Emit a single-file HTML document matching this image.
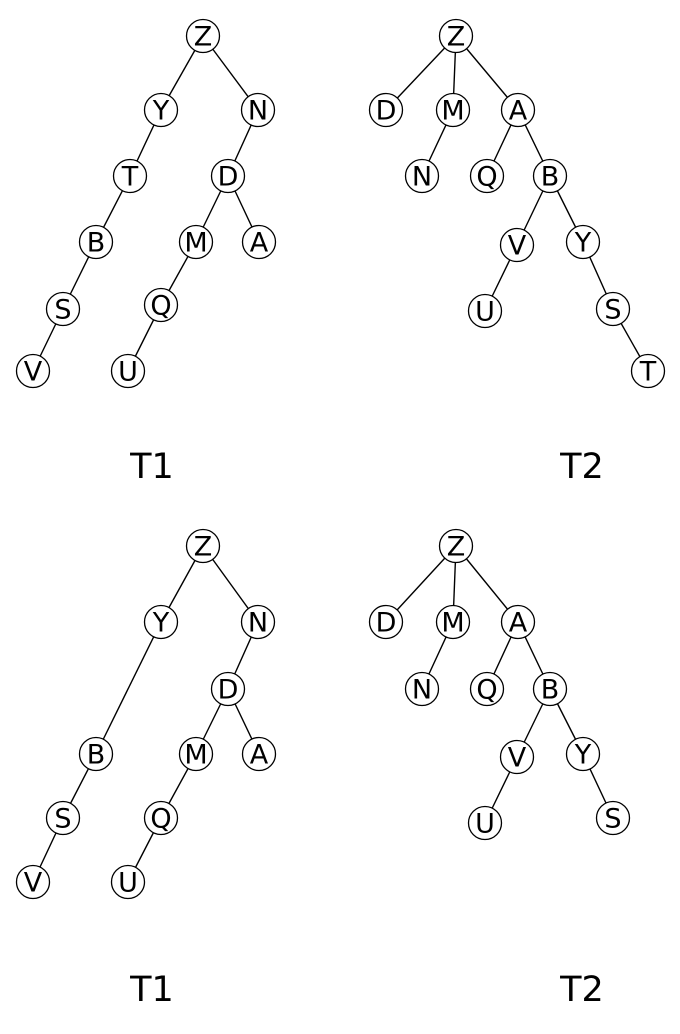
<!DOCTYPE html>
<html><head><meta charset="utf-8"><style>
html,body{margin:0;padding:0;background:#fff;}
svg{display:block;}
text{font-family:"DejaVu Sans","Liberation Sans",sans-serif;}
</style></head><body>
<svg id="chart" width="680" height="1034" viewBox="0 0 680 1034"></svg>
<script>
const labelsTop1 = ["Z","Y","N","T","D","B","M","A","S","Q","V","U"];
const xTop1 = [203,161,258,130,228,96,196,259,63,161,33,128];
const yTop1 = [36,110,110,176,176,242,242,242,309,305,371,371];
const edgesTop1 = [["Z","Y"],["Z","N"],["Y","T"],["T","B"],["B","S"],["S","V"],["N","D"],["D","M"],["D","A"],["M","Q"],["Q","U"]];

const labelsTop2 = ["Z","D","M","A","N","Q","B","V","Y","U","S","T"];
const xTop2 = [456,386,453,518,422,487,550,517,583,485,613,648];
const yTop2 = [36,110,110,110,176,176,176,245,242,311,309,371];
const edgesTop2 = [["Z","D"],["Z","M"],["Z","A"],["M","N"],["A","Q"],["A","B"],["B","V"],["B","Y"],["V","U"],["Y","S"],["S","T"]];

const labelsBot1 = ["Z","Y","N","D","B","M","A","S","Q","V","U"];
const xBot1 = [203,161,258,228,96,196,259,63,161,33,128];
const yBot1 = [546,622,622,689,754,754,754,818,818,882,882];
const edgesBot1 = [["Z","Y"],["Z","N"],["Y","B"],["B","S"],["S","V"],["N","D"],["D","M"],["D","A"],["M","Q"],["Q","U"]];

const labelsBot2 = ["Z","D","M","A","N","Q","B","V","Y","U","S"];
const xBot2 = [456,386,453,518,422,487,550,517,583,485,613];
const yBot2 = [546,622,622,622,689,689,689,757,754,823,818];
const edgesBot2 = [["Z","D"],["Z","M"],["Z","A"],["M","N"],["A","Q"],["A","B"],["B","V"],["B","Y"],["V","U"],["Y","S"]];

const titles = ["T1","T2","T1","T2"];
const titleX = [152,582,152,582];
const titleY = [465,465,988,988];

const NS = "http://www.w3.org/2000/svg";
const svg = document.getElementById("chart");
function mk(tag, attrs){const e=document.createElementNS(NS,tag);for(const k in attrs)e.setAttribute(k,attrs[k]);return e;}

function drawTree(name, labels, xs, ys, edges){
  const g = mk("g",{});
  
  
  svg.appendChild(g);
  const idx = l => labels.indexOf(l);
  edges.forEach(([a,b])=>{
    const i=idx(a), j=idx(b);
    const ln = mk("line",{x1:xs[i],y1:ys[i],x2:xs[j],y2:ys[j],stroke:"#000","stroke-width":1.4});
    
    
    g.appendChild(ln);
  });
  labels.forEach((l,i)=>{
    const c = mk("circle",{cx:xs[i],cy:ys[i],r:16.5,fill:"#fff",stroke:"#000","stroke-width":1.3});
    
    
    g.appendChild(c);
    const t = mk("text",{x:xs[i],y:ys[i]+9.5,"text-anchor":"middle","font-size":27,fill:"#000"});
    t.textContent = l;
    
    
    g.appendChild(t);
  });
}
drawTree("tree-t1-top", labelsTop1, xTop1, yTop1, edgesTop1);
drawTree("tree-t2-top", labelsTop2, xTop2, yTop2, edgesTop2);
drawTree("tree-t1-bottom", labelsBot1, xBot1, yBot1, edgesBot1);
drawTree("tree-t2-bottom", labelsBot2, xBot2, yBot2, edgesBot2);
titles.forEach((s,i)=>{
  const t = mk("text",{x:titleX[i],y:titleY[i]+13,"text-anchor":"middle","font-size":35,fill:"#000"});
  t.textContent = s;
  
  
  svg.appendChild(t);
});
</script>
</body></html>
